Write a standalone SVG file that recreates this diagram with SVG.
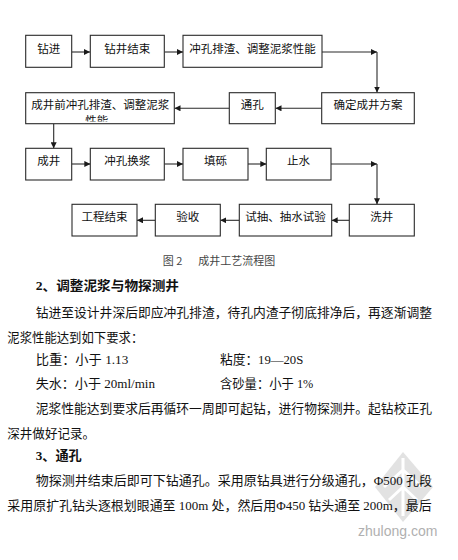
<svg xmlns="http://www.w3.org/2000/svg" width="458" height="560" viewBox="0 0 458 560">
<style>
.box{fill:#fff;stroke:#2a2a2a;stroke-width:1.1}
.bt{font-family:"Noto Sans CJK SC","Noto Sans",sans-serif;font-size:11.5px;fill:#111;text-anchor:middle}
.con{stroke:#2a2a2a;stroke-width:1.1;fill:none}
.body{font-family:"Liberation Serif","Noto Sans CJK SC",serif;font-size:12.8px;fill:#111}
.hd{font-family:"Liberation Serif","Noto Sans CJK SC",serif;font-size:13px;font-weight:bold;fill:#111}
.cap{font-family:"Noto Sans CJK SC","Liberation Sans",sans-serif;font-size:11px;fill:#444}
</style>
<defs>
<marker id="ah" viewBox="0 0 10 10" refX="10" refY="5" markerWidth="6" markerHeight="6" markerUnits="userSpaceOnUse" orient="auto">
<path d="M0,0 L10,5 L0,10 z" fill="#1a1a1a"/>
</marker>
<clipPath id="clipBox5"><rect x="26" y="93" width="148" height="28.5"/></clipPath>
</defs>
<rect width="458" height="560" fill="#fff"/>

<!-- watermark logo -->
<g id="logo">
<polygon points="403,452 433,487 403,522 375,487" fill="#e2e2e2"/>
<path d="M403,458 V516 M384,487 L403,470 L422,487 M389,500 L403,487 L417,500" stroke="#fff" stroke-width="3" fill="none"/>
</g>

<g id="connectors">
<line class="con" x1="72" y1="52" x2="90" y2="52" marker-end="url(#ah)"/>
<line class="con" x1="164.5" y1="52" x2="183" y2="52" marker-end="url(#ah)"/>
<line class="con" x1="322" y1="52" x2="377" y2="52" marker-end="url(#ah)"/>
<line class="con" x1="377" y1="52" x2="377" y2="92.5" marker-end="url(#ah)"/>
<line class="con" x1="321.7" y1="108.3" x2="275.5" y2="108.3" marker-end="url(#ah)"/>
<line class="con" x1="229.3" y1="108.3" x2="174.5" y2="108.3" marker-end="url(#ah)"/>
<line class="con" x1="53.7" y1="123.7" x2="53.7" y2="148.3" marker-end="url(#ah)"/>
<line class="con" x1="71.7" y1="164" x2="90.3" y2="164" marker-end="url(#ah)"/>
<line class="con" x1="164.3" y1="164" x2="183" y2="164" marker-end="url(#ah)"/>
<line class="con" x1="248" y1="164" x2="266.3" y2="164" marker-end="url(#ah)"/>
<line class="con" x1="331" y1="164" x2="377" y2="164" marker-end="url(#ah)"/>
<line class="con" x1="377" y1="164" x2="377" y2="204.3" marker-end="url(#ah)"/>
<line class="con" x1="349.3" y1="220.3" x2="331.7" y2="220.3" marker-end="url(#ah)"/>
<line class="con" x1="239.3" y1="220.3" x2="220.3" y2="220.3" marker-end="url(#ah)"/>
<line class="con" x1="155.3" y1="220.3" x2="137" y2="220.3" marker-end="url(#ah)"/>
</g>

<g id="n1"><rect class="box" x="25.7" y="35.3" width="46" height="32"/><text class="bt" x="48.7" y="52.5">钻进</text></g>
<g id="n2"><rect class="box" x="90.3" y="35.3" width="74" height="32"/><text class="bt" x="127.3" y="52.5">钻井结束</text></g>
<g id="n3"><rect class="box" x="183" y="35.3" width="139" height="32"/><text class="bt" x="252.5" y="52.5">冲孔排渣、调整泥浆性能</text></g>

<g id="n4"><rect class="box" x="321.7" y="92.7" width="92.6" height="31"/><text class="bt" x="368" y="109">确定成井方案</text></g>
<g id="n5"><rect class="box" x="229.3" y="92.7" width="46" height="31"/><text class="bt" x="252.3" y="108.5">通孔</text></g>
<g id="n6"><rect class="box" x="25.7" y="92.7" width="148.6" height="31"/><text class="bt" x="100.3" y="109">成井前冲孔排渣、调整泥浆</text><text class="bt" x="96.7" y="125" clip-path="url(#clipBox5)">性能</text></g>

<g id="n7"><rect class="box" x="25.7" y="148.3" width="46" height="31.7"/><text class="bt" x="48.7" y="165">成井</text></g>
<g id="n8"><rect class="box" x="90.3" y="148.3" width="74" height="31.7"/><text class="bt" x="127.3" y="165">冲孔换浆</text></g>
<g id="n9"><rect class="box" x="183" y="148.3" width="65" height="31.7"/><text class="bt" x="215.5" y="165">填砾</text></g>
<g id="n10"><rect class="box" x="266.3" y="148.3" width="64.7" height="31.7"/><text class="bt" x="298.6" y="165">止水</text></g>

<g id="n11"><rect class="box" x="349.3" y="204.3" width="65" height="31.7"/><text class="bt" x="381.8" y="221">洗井</text></g>
<g id="n12"><rect class="box" x="239.3" y="204.3" width="92.4" height="31.7"/><text class="bt" x="285.5" y="221">试抽、抽水试验</text></g>
<g id="n13"><rect class="box" x="155.3" y="204.3" width="65" height="31.7"/><text class="bt" x="187.8" y="221">验收</text></g>
<g id="n14"><rect class="box" x="72" y="204.3" width="65" height="31.7"/><text class="bt" x="104.5" y="221">工程结束</text></g>

<text class="cap" x="162.7" y="265">图 2</text>
<text class="cap" x="198.3" y="265">成井工艺流程图</text>

<text class="hd" x="35.7" y="290" textLength="143.3" lengthAdjust="spacingAndGlyphs">2、调整泥浆与物探测井</text>
<text class="body" x="35.7" y="316.5" textLength="396.3" lengthAdjust="spacingAndGlyphs">钻进至设计井深后即应冲孔排渣，待孔内渣子彻底排净后，再逐渐调整</text>
<text class="body" x="7.3" y="341.8" textLength="136" lengthAdjust="spacingAndGlyphs">泥浆性能达到如下要求：</text>
<text class="body" x="35.7" y="364.3" textLength="92.6" lengthAdjust="spacingAndGlyphs">比重：小于 1.13</text>
<text class="body" x="220" y="364.3" textLength="83.3" lengthAdjust="spacingAndGlyphs">粘度：19—20S</text>
<text class="body" x="35.7" y="388.3" textLength="119.3" lengthAdjust="spacingAndGlyphs">失水：小于 20ml/min</text>
<text class="body" x="220" y="388.3" textLength="93.3" lengthAdjust="spacingAndGlyphs">含砂量：小于 1%</text>
<text class="body" x="35.7" y="413.3" textLength="396.3" lengthAdjust="spacingAndGlyphs">泥浆性能达到要求后再循环一周即可起钻，进行物探测井。起钻校正孔</text>
<text class="body" x="7.3" y="438.3" textLength="87.7" lengthAdjust="spacingAndGlyphs">深井做好记录。</text>
<text class="hd" x="35.7" y="460" textLength="46" lengthAdjust="spacingAndGlyphs">3、通孔</text>
<text class="body" x="35.7" y="485" textLength="396.3" lengthAdjust="spacingAndGlyphs">物探测井结束后即可下钻通孔。采用原钻具进行分级通孔，Φ500 孔段</text>
<text class="body" x="7.3" y="510" textLength="424.4" lengthAdjust="spacingAndGlyphs">采用原扩孔钻头逐根划眼通至 100m 处，然后用Φ450 钻头通至 200m，最后</text>

<text x="358" y="536" font-family="Liberation Sans, Arial, sans-serif" font-size="14" fill="#b0b0b0">zhulong.com</text>
</svg>
